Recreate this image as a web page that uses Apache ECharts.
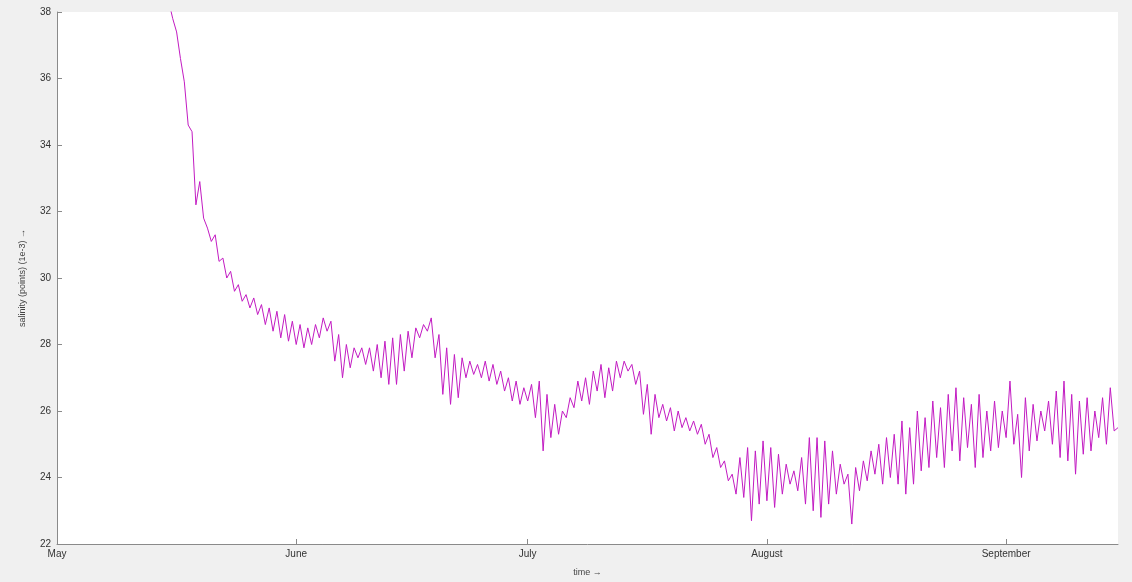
<!DOCTYPE html>
<html>
<head>
<meta charset="utf-8">
<script src="https://cdn.jsdelivr.net/npm/echarts@6/dist/echarts.min.js"></script>
<style>html,body{margin:0;padding:0;background:#f0f0f0;}#c{width:1132px;height:582px;}</style>
</head>
<body>
<div id="c"></div>
<script>
// Month tick positions (days since 1 May) and their labels
const monthTickDays = [0, 31, 61, 92, 123];
const monthLabels = ['May', 'June', 'July', 'August', 'September'];
const yTicks = [22, 24, 26, 28, 30, 32, 34, 36, 38];

// Salinity samples: start day (since 1 May) and sampling step in days
const startDay = 14.5;
const stepDays = 0.5;
const salinity = [
  38.3, 37.8, 37.4, 36.6, 35.9, 34.6, 34.4, 32.2, 32.9, 31.8,
  31.5, 31.1, 31.3, 30.5, 30.6, 30.0, 30.2, 29.6, 29.8, 29.3,
  29.5, 29.1, 29.4, 28.9, 29.2, 28.6, 29.1, 28.4, 29.0, 28.2,
  28.9, 28.1, 28.7, 28.0, 28.6, 27.9, 28.5, 28.0, 28.6, 28.2,
  28.8, 28.4, 28.7, 27.5, 28.3, 27.0, 28.0, 27.3, 27.9, 27.6,
  27.9, 27.4, 27.9, 27.2, 28.0, 27.0, 28.1, 26.8, 28.2, 26.8,
  28.3, 27.2, 28.4, 27.6, 28.5, 28.2, 28.6, 28.4, 28.8, 27.6,
  28.3, 26.5, 27.9, 26.2, 27.7, 26.4, 27.6, 27.0, 27.5, 27.1,
  27.4, 27.0, 27.5, 26.9, 27.4, 26.8, 27.2, 26.6, 27.0, 26.3,
  26.9, 26.2, 26.7, 26.3, 26.8, 25.8, 26.9, 24.8, 26.5, 25.2,
  26.2, 25.3, 26.0, 25.8, 26.4, 26.1, 26.9, 26.3, 27.0, 26.2,
  27.2, 26.6, 27.4, 26.4, 27.3, 26.6, 27.5, 27.0, 27.5, 27.2,
  27.4, 26.8, 27.2, 25.9, 26.8, 25.3, 26.5, 25.8, 26.2, 25.7,
  26.1, 25.4, 26.0, 25.5, 25.8, 25.4, 25.7, 25.3, 25.6, 25.0,
  25.3, 24.6, 24.9, 24.3, 24.5, 23.9, 24.1, 23.5, 24.6, 23.4,
  24.9, 22.7, 24.8, 23.2, 25.1, 23.3, 24.9, 23.1, 24.7, 23.5,
  24.4, 23.8, 24.2, 23.6, 24.6, 23.2, 25.2, 23.0, 25.2, 22.8,
  25.1, 23.2, 24.8, 23.5, 24.4, 23.8, 24.1, 22.6, 24.3, 23.6,
  24.5, 23.9, 24.8, 24.1, 25.0, 23.8, 25.2, 24.0, 25.3, 23.8,
  25.7, 23.5, 25.5, 23.8, 26.0, 24.2, 25.8, 24.3, 26.3, 24.6,
  26.1, 24.3, 26.5, 24.8, 26.7, 24.5, 26.4, 24.9, 26.2, 24.3,
  26.5, 24.6, 26.0, 24.8, 26.3, 24.9, 26.0, 25.2, 26.9, 25.0,
  25.9, 24.0, 26.4, 24.8, 26.2, 25.1, 26.0, 25.4, 26.3, 25.0,
  26.6, 24.6, 26.9, 24.5, 26.5, 24.1, 26.3, 24.7, 26.4, 24.8,
  26.0, 25.2, 26.4, 25.0, 26.7, 25.4, 25.5
];

const points = salinity.map((v, i) => [startDay + i * stepDays, v]);

const chart = echarts.init(document.getElementById('c'), null, {renderer: 'canvas'});
chart.setOption({
  backgroundColor: '#f0f0f0',
  animation: false,
  textStyle: {fontFamily: 'Liberation Sans, Arial, sans-serif'},
  grid: {left: 57, right: 14, top: 12, bottom: 36, show: true, backgroundColor: '#ffffff', borderWidth: 0},
  xAxis: {
    type: 'value',
    min: 0,
    max: 137.5,
    name: 'time →',
    nameLocation: 'middle',
    nameGap: 24,
    nameTextStyle: {fontSize: 9, color: '#444'},
    axisLine: {show: true, lineStyle: {color: '#8a8a8a', width: 1}},
    axisTick: {show: true, inside: true, length: 5, customValues: monthTickDays, lineStyle: {color: '#8a8a8a'}},
    axisLabel: {
      customValues: monthTickDays,
      fontSize: 10, color: '#333', margin: 5,
      formatter: function (v) { const k = monthTickDays.indexOf(v); return k >= 0 ? monthLabels[k] : ''; }
    },
    splitLine: {show: false}
  },
  yAxis: {
    type: 'value',
    min: yTicks[0],
    max: yTicks[yTicks.length - 1],
    interval: 2,
    name: 'salinity (points) (1e-3) →',
    nameLocation: 'middle',
    nameGap: 30,
    nameRotate: 90,
    nameTextStyle: {fontSize: 9, color: '#444'},
    axisLine: {show: true, lineStyle: {color: '#8a8a8a', width: 1}},
    axisTick: {show: true, inside: true, length: 5, lineStyle: {color: '#8a8a8a'}},
    axisLabel: {fontSize: 10, color: '#333', margin: 6},
    splitLine: {show: false}
  },
  series: [{
    type: 'line',
    data: points,
    showSymbol: false,
    clip: true,
    lineStyle: {color: '#c21bc2', width: 1},
    itemStyle: {color: '#c21bc2'}
  }]
});
</script>
</body>
</html>
